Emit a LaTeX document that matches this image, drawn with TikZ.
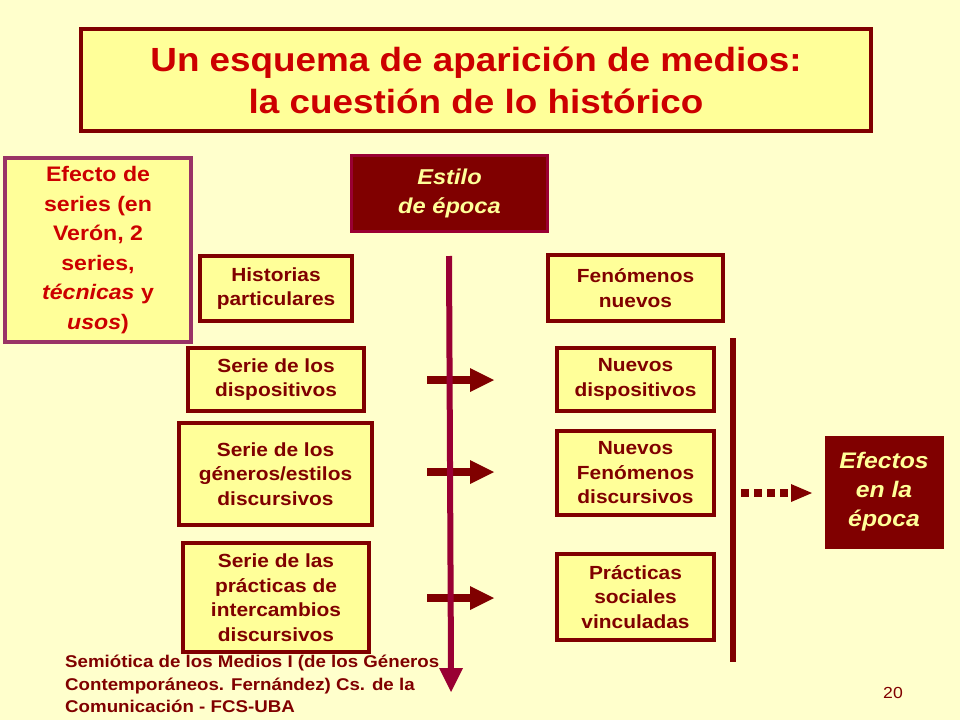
\documentclass[tikz,border=0pt]{standalone}
\usepackage{fontspec}
\setmainfont[FakeStretch=1.1]{Liberation Sans}
\definecolor{bg}{HTML}{FFFFCC}
\definecolor{boxfill}{HTML}{FFFF99}
\definecolor{dred}{HTML}{800000}
\definecolor{plum}{HTML}{993366}
\definecolor{tred}{HTML}{CC0000}
\definecolor{crim}{HTML}{990033}
\definecolor{ytext}{HTML}{FFFF99}
\tikzset{
  ybox/.style={draw=dred, line width=4pt, fill=boxfill, text=dred, align=center, inner sep=0pt,
    font=\fontsize{19}{24.5}\selectfont\bfseries},
  dbox/.style={draw=crim, line width=3pt, fill=dred, text=ytext, align=center, inner sep=0pt,
    font=\fontsize{21.5}{29}\selectfont\bfseries\itshape},
  harrow/.style={dred, line width=8pt},
  harrowhead/.style={fill=dred, draw=none},
}
\begin{document}
\begin{tikzpicture}[x=1pt,y=-1pt]
\useasboundingbox (0,0) rectangle (960,720);
\fill[bg] (0,0) rectangle (960,720);

% title
\node[ybox, draw=dred, text=tred, minimum width=790pt, minimum height=102pt,
  font=\fontsize{33.5}{42}\selectfont\bfseries] (title) at (476,80)
  {Un esquema de aparición de medios:\\la cuestión de lo histórico};

% left box
\node[ybox, draw=plum, text=tred, minimum width=186pt, minimum height=184pt,
  font=\fontsize{21}{29.5}\selectfont\bfseries] (efecto) at (98,250)
  {Efecto de\\series (en\\Verón, 2\\series,\\\textit{técnicas} y\\\textit{usos})};

% estilo
\node[dbox, minimum width=196pt, minimum height=76pt] (estilo) at (449.5,193.5) {Estilo\\de época};

% left column
\node[ybox, minimum width=152pt, minimum height=65pt] (hist) at (276,288.5) {Historias\\particulares};
\node[ybox, minimum width=176pt, minimum height=63pt] (sdisp) at (276,379.5) {Serie de los\\dispositivos};
\node[ybox, minimum width=193pt, minimum height=102pt] (sgen) at (275.5,474) {Serie de los\\géneros/estilos\\discursivos};
\node[ybox, minimum width=186pt, minimum height=109pt] (sprac) at (276,597.5) {Serie de las\\prácticas de\\intercambios\\discursivos};

% right column
\node[ybox, minimum width=175pt, minimum height=66pt] (fnuev) at (635.5,288) {Fenómenos\\nuevos};
\node[ybox, minimum width=157pt, minimum height=63pt] (ndisp) at (635.5,379.5) {Nuevos\\dispositivos};
\node[ybox, minimum width=157pt, minimum height=84pt] (nfen) at (635.5,473) {Nuevos\\Fenómenos\\discursivos};
\node[ybox, minimum width=157pt, minimum height=86pt] (psoc) at (635.5,597) {Prácticas\\sociales\\vinculadas};

% efectos
\node[dbox, draw=dred, line width=0pt, minimum width=118pt, minimum height=112pt,
  font=\fontsize{22.5}{29}\selectfont\bfseries\itshape] (efectos) at (884,492) {Efectos\\en la\\época};

% horizontal arrows
\foreach \yy/\nm in {380/a, 472/b, 598/c}{
  \coordinate (h\nm s) at (427,\yy);
  \coordinate (h\nm e) at (472,\yy);
  \draw[harrow] (h\nm s) -- (h\nm e);
  \fill[harrowhead] (470,\yy-12) -- (494,\yy) -- (470,\yy+12) -- cycle;
}

% vertical arrow
\coordinate (vtop) at (449,256);
\coordinate (vbot) at (451,670);
\draw[crim, line width=6pt] (vtop) -- (vbot);
\fill[crim] (439,668) -- (463,668) -- (451,692) -- cycle;

% right bar
\coordinate (bartop) at (733,338);
\coordinate (barbot) at (733,662);
\draw[dred, line width=6pt] (bartop) -- (barbot);

% dotted arrow
\coordinate (ds) at (741,493);
\coordinate (de) at (792,493);
\draw[dred, line width=8pt, dash pattern=on 8pt off 5pt] (ds) -- (de);
\fill[dred] (791,484) -- (812,493) -- (791,502) -- cycle;

% footer
\node[anchor=north west, align=left, text=dred, inner sep=0pt,
  font=\fontsize{17}{22.5}\selectfont\bfseries] (foot) at (65,655)
  {Semiótica de los Medios I (de los Géneros\\Contemporáneos. Fernández) Cs. de la\\Comunicación - FCS-UBA};
\node[text=dred, inner sep=0pt, font=\fontsize{16}{19}\selectfont] (pnum) at (893,693) {20};
\end{tikzpicture}
\end{document}
